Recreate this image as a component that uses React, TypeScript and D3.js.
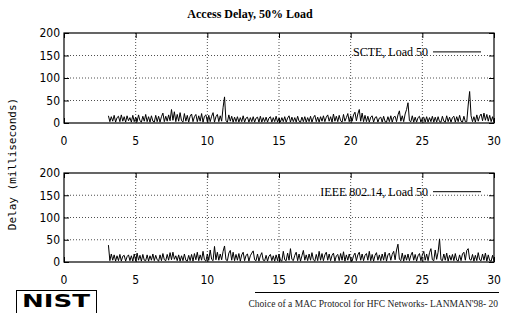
import React, { useEffect, useRef } from 'react';
import * as d3 from 'd3';

// Access delay time series, sampled every 0.1 s from t = 3.1 s.
const START_TIME = 3.1;
const STEP = 0.1;

const scteDelay = [
  16, 3, 14, 4, 17, 2, 12, 15, 3, 18,
  4, 14, 2, 16, 5, 12, 2, 17, 3, 13,
  3, 18, 5, 2, 15, 4, 19, 3, 14, 2,
  16, 4, 2, 17, 3, 15, 2, 14, 22, 3,
  15, 4, 18, 5, 30, 6, 25, 3, 19, 4,
  23, 5, 2, 21, 4, 17, 2, 15, 20, 3,
  14, 19, 3, 16, 4, 21, 2, 15, 18, 3,
  17, 3, 15, 23, 2, 14, 19, 3, 16, 4,
  35, 58, 5, 2, 18, 4, 15, 2, 13, 3,
  14, 2, 12, 3, 16, 2, 11, 13, 2, 12,
  3, 14, 2, 11, 13, 2, 15, 2, 12, 3,
  13, 2, 11, 14, 2, 12, 3, 15, 2, 11,
  2, 12, 3, 14, 2, 11, 16, 2, 13, 3,
  12, 2, 15, 4, 2, 13, 3, 14, 2, 12,
  3, 15, 2, 12, 17, 3, 13, 2, 14, 4,
  16, 3, 13, 18, 4, 14, 2, 20, 4, 15,
  3, 17, 5, 2, 19, 4, 12, 21, 3, 16,
  4, 18, 24, 5, 20, 30, 4, 22, 3, 17,
  3, 15, 2, 13, 16, 2, 12, 14, 2, 11,
  13, 2, 15, 3, 2, 14, 3, 16, 2, 13,
  15, 3, 18, 27, 4, 16, 3, 20, 30, 45,
  5, 3, 16, 2, 13, 2, 12, 15, 2, 11,
  13, 2, 14, 2, 12, 3, 15, 2, 13, 2,
  14, 3, 2, 15, 4, 2, 16, 3, 13, 2,
  12, 15, 2, 14, 3, 17, 4, 2, 15, 3,
  3, 40, 70, 16, 3, 14, 2, 18, 4, 15,
  20, 5, 22, 6, 19, 4, 17, 3, 14, 2,
];

const ieeeDelay = [
  38, 3, 18, 4, 16, 2, 14, 3, 17, 2,
  13, 15, 2, 12, 16, 3, 14, 2, 18, 3,
  20, 4, 15, 2, 17, 4, 3, 16, 2, 14,
  4, 18, 3, 15, 5, 2, 16, 3, 19, 5,
  3, 17, 4, 21, 5, 22, 6, 14, 3, 16,
  2, 14, 3, 18, 4, 2, 15, 3, 17, 2,
  19, 5, 22, 3, 16, 4, 24, 5, 2, 18,
  4, 27, 6, 3, 35, 5, 22, 4, 18, 5,
  24, 36, 5, 3, 20, 26, 4, 22, 3, 17,
  4, 19, 2, 16, 22, 3, 15, 18, 2, 14,
  20, 25, 5, 3, 18, 2, 14, 21, 4, 3,
  15, 2, 13, 17, 3, 14, 2, 16, 3, 18,
  4, 2, 24, 5, 3, 20, 4, 30, 6, 3,
  15, 22, 3, 18, 2, 14, 26, 4, 16, 3,
  18, 4, 21, 5, 2, 17, 3, 24, 4, 19,
  3, 16, 22, 4, 18, 3, 15, 20, 2, 14,
  17, 3, 19, 4, 23, 2, 16, 4, 18, 5,
  2, 14, 20, 3, 16, 22, 4, 18, 3, 15,
  19, 4, 24, 3, 17, 2, 15, 21, 4, 16,
  3, 18, 4, 22, 2, 16, 20, 4, 17, 24,
  5, 27, 40, 6, 3, 20, 2, 16, 4, 18,
  3, 15, 22, 4, 17, 2, 14, 19, 3, 16,
  24, 4, 18, 3, 21, 30, 5, 3, 27, 6,
  22, 52, 5, 3, 18, 4, 20, 2, 15, 4,
  17, 3, 19, 4, 2, 16, 3, 18, 22, 4,
  26, 30, 6, 4, 17, 2, 15, 3, 21, 5,
  3, 18, 4, 20, 2, 16, 3, 2, 15, 2,
];

const xTicks = [0, 5, 10, 15, 20, 25, 30];
const yTicks = [0, 50, 100, 150, 200];

const panels = [
  { label: 'SCTE, Load 50', values: scteDelay, top: 33, bottom: 123 },
  { label: 'IEEE 802.14, Load 50', values: ieeeDelay, top: 173, bottom: 262 },
];

const W = 505;
const H = 313;
const LEFT = 64;
const RIGHT = 494;
const TICK_FONT = '"DejaVu Sans Condensed", "Liberation Sans Narrow", sans-serif';
const SERIF = '"Liberation Serif", "Times New Roman", serif';

const App = () => {
  const svgRef = useRef<SVGSVGElement>(null);

  useEffect(() => {
    const svg = d3.select(svgRef.current).attr('width', W).attr('height', H);
    svg.selectAll('*').remove();
    svg.append('rect').attr('width', W).attr('height', H).attr('fill', 'white');

    const x = d3.scaleLinear().domain([0, 30]).range([LEFT, RIGHT]);

    panels.forEach((p) => {
      const y = d3.scaleLinear().domain([0, 200]).range([p.bottom, p.top]);
      const g = svg.append('g');

      // dotted grid
      g.selectAll('line.gx')
        .data(xTicks.slice(1, -1))
        .enter()
        .append('line')
        .attr('x1', (d) => x(d))
        .attr('x2', (d) => x(d))
        .attr('y1', p.top)
        .attr('y2', p.bottom)
        .attr('stroke', '#222')
        .attr('stroke-width', 0.8)
        .style('stroke-dasharray', '1,2');
      g.selectAll('line.gy')
        .data(yTicks.slice(1, -1))
        .enter()
        .append('line')
        .attr('x1', LEFT)
        .attr('x2', RIGHT)
        .attr('y1', (d) => y(d))
        .attr('y2', (d) => y(d))
        .attr('stroke', '#222')
        .attr('stroke-width', 0.8)
        .style('stroke-dasharray', '1,2');

      // data line
      const line = d3
        .line<number>()
        .x((_d, i) => x(START_TIME + i * STEP))
        .y((d) => y(d));
      g.append('path')
        .datum(p.values)
        .attr('fill', 'none')
        .attr('stroke', '#000')
        .attr('stroke-width', 1)
        .attr('d', line);

      // inward ticks on all sides
      g.append('g')
        .attr('transform', `translate(0,${p.bottom})`)
        .call(d3.axisTop(x).tickValues(xTicks).tickSize(5).tickFormat(() => ''))
        .call((a) => a.select('.domain').remove());
      g.append('g')
        .attr('transform', `translate(0,${p.top})`)
        .call(d3.axisBottom(x).tickValues(xTicks).tickSize(5).tickFormat(() => ''))
        .call((a) => a.select('.domain').remove());
      g.append('g')
        .attr('transform', `translate(${LEFT},0)`)
        .call(d3.axisRight(y).tickValues(yTicks).tickSize(5).tickFormat(() => ''))
        .call((a) => a.select('.domain').remove());
      g.append('g')
        .attr('transform', `translate(${RIGHT},0)`)
        .call(d3.axisLeft(y).tickValues(yTicks).tickSize(5).tickFormat(() => ''))
        .call((a) => a.select('.domain').remove());

      // frame
      g.append('rect')
        .attr('x', LEFT)
        .attr('y', p.top)
        .attr('width', RIGHT - LEFT)
        .attr('height', p.bottom - p.top)
        .attr('fill', 'none')
        .attr('stroke', '#000')
        .attr('stroke-width', 1.2);

      // tick labels
      g.selectAll('text.yl')
        .data(yTicks)
        .enter()
        .append('text')
        .attr('x', LEFT - 4)
        .attr('y', (d) => y(d))
        .attr('dy', '0.36em')
        .attr('text-anchor', 'end')
        .attr('font-family', TICK_FONT)
        .attr('font-size', '12px')
        .text((d) => d);
      g.selectAll('text.xl')
        .data(xTicks)
        .enter()
        .append('text')
        .attr('x', (d) => x(d))
        .attr('y', p.bottom + 22)
        .attr('text-anchor', 'middle')
        .attr('font-family', TICK_FONT)
        .attr('font-size', '12px')
        .text((d) => d);

      // legend
      const ly = y(158);
      g.append('text')
        .attr('x', 428)
        .attr('y', ly)
        .attr('dy', '0.35em')
        .attr('text-anchor', 'end')
        .attr('font-family', SERIF)
        .attr('font-size', '12px')
        .text(p.label);
      g.append('line')
        .attr('x1', 433)
        .attr('x2', 481)
        .attr('y1', ly)
        .attr('y2', ly)
        .attr('stroke', '#000')
        .attr('stroke-width', 1);
    });

    // title
    svg
      .append('text')
      .attr('x', 250)
      .attr('y', 18)
      .attr('text-anchor', 'middle')
      .attr('font-family', SERIF)
      .attr('font-weight', 'bold')
      .attr('font-size', '12px')
      .text('Access Delay, 50% Load');

    // y axis label
    svg
      .append('text')
      .attr('transform', 'translate(16,164) rotate(-90)')
      .attr('text-anchor', 'middle')
      .attr('font-family', '"DejaVu Sans Mono", monospace')
      .attr('font-size', '11px')
      .text('Delay (milliseconds)');

    // NIST logo
    svg
      .append('rect')
      .attr('x', 16.5)
      .attr('y', 290.5)
      .attr('width', 80)
      .attr('height', 30)
      .attr('fill', 'white')
      .attr('stroke', '#000')
      .attr('stroke-width', 1);
    svg
      .append('text')
      .attr('x', 22)
      .attr('y', 307)
      .attr('font-family', '"DejaVu Sans", sans-serif')
      .attr('font-weight', 'bold')
      .attr('font-size', '18px')
      .attr('textLength', 68)
      .attr('lengthAdjust', 'spacingAndGlyphs')
      .text('NIST');

    // footer
    svg
      .append('line')
      .attr('x1', 255)
      .attr('x2', 499)
      .attr('y1', 292.5)
      .attr('y2', 292.5)
      .attr('stroke', '#000')
      .attr('stroke-width', 1);
    svg
      .append('text')
      .attr('x', 498)
      .attr('y', 307)
      .attr('text-anchor', 'end')
      .attr('font-family', SERIF)
      .attr('font-size', '9.5px')
      .attr('fill', '#222')
      .text("Choice of a MAC Protocol for HFC Networks-  LANMAN'98- 20");
  }, []);

  return <svg ref={svgRef} style={{ position: 'absolute', left: 0, top: 0 }} />;
};

export default App;
